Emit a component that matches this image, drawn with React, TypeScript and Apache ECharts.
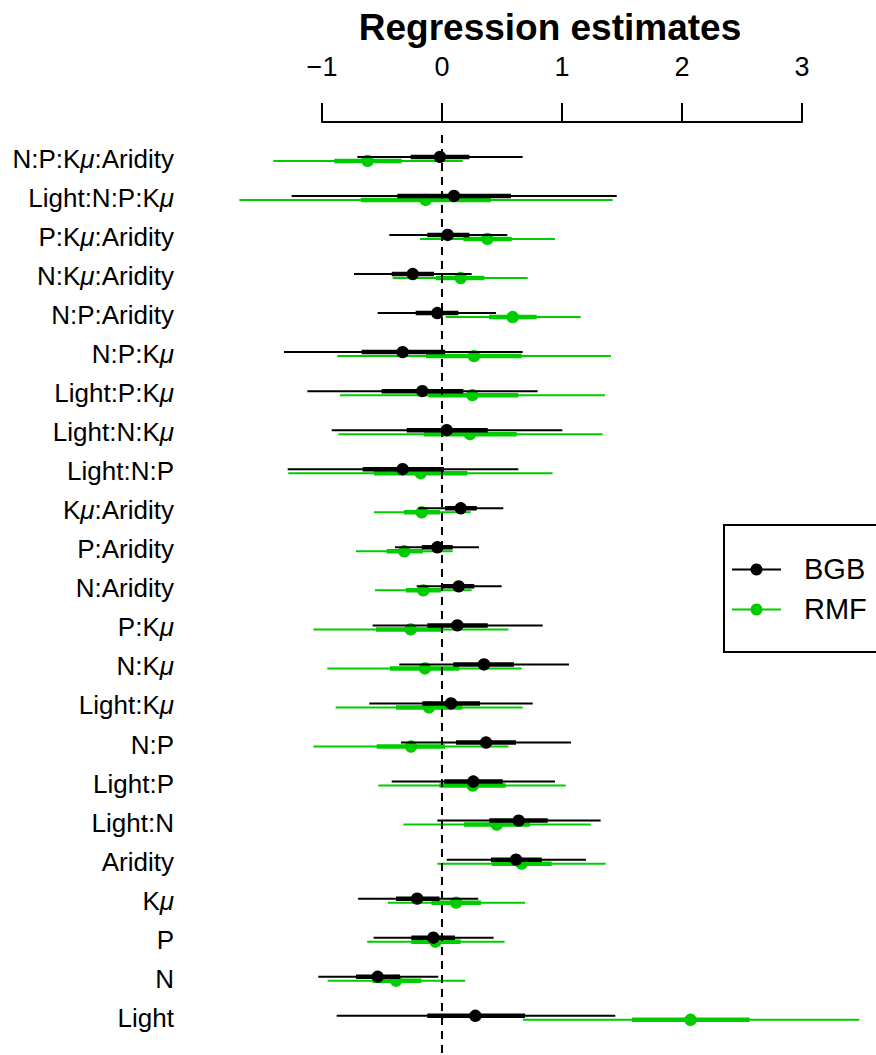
import React, { useEffect, useRef } from 'react';
import * as echarts from 'echarts';

// ---------------- data ----------------
const CATEGORIES = [
  'N:P:Kμ:Aridity', 'Light:N:P:Kμ', 'P:Kμ:Aridity', 'N:Kμ:Aridity', 'N:P:Aridity',
  'N:P:Kμ', 'Light:P:Kμ', 'Light:N:Kμ', 'Light:N:P', 'Kμ:Aridity', 'P:Aridity',
  'N:Aridity', 'P:Kμ', 'N:Kμ', 'Light:Kμ', 'N:P', 'Light:P', 'Light:N', 'Aridity',
  'Kμ', 'P', 'N', 'Light',
];

const X_TICKS = [-1, 0, 1, 2, 3];

const BGB_EST = [-0.017, 0.1, 0.047, -0.244, -0.039, -0.328, -0.164, 0.039, -0.328, 0.156, -0.039, 0.139, 0.128, 0.35, 0.075, 0.367, 0.261, 0.639, 0.617, -0.207, -0.072, -0.536, 0.278];
const BGB_LO95 = [-0.705, -1.253, -0.439, -0.733, -0.536, -1.317, -1.122, -0.919, -1.286, -0.197, -0.392, -0.211, -0.578, -0.356, -0.606, -0.342, -0.419, -0.039, 0.039, -0.699, -0.57, -1.031, -0.878];
const BGB_HI95 = [0.672, 1.456, 0.544, 0.247, 0.45, 0.672, 0.797, 1.003, 0.636, 0.511, 0.308, 0.497, 0.839, 1.058, 0.756, 1.075, 0.942, 1.322, 1.2, 0.302, 0.43, -0.031, 1.444];
const BGB_LO50 = [-0.261, -0.372, -0.122, -0.419, -0.219, -0.669, -0.503, -0.294, -0.661, 0.025, -0.169, 0.006, -0.122, 0.094, -0.164, 0.117, 0.019, 0.394, 0.408, -0.383, -0.255, -0.716, -0.123];
const BGB_HI50 = [0.228, 0.575, 0.228, -0.067, 0.136, 0.025, 0.178, 0.381, 0.017, 0.289, 0.089, 0.269, 0.381, 0.6, 0.317, 0.617, 0.506, 0.881, 0.831, -0.021, 0.108, -0.35, 0.692];

const RMF_EST = [-0.62, -0.136, 0.378, 0.156, 0.589, 0.267, 0.253, 0.233, -0.178, -0.169, -0.314, -0.156, -0.261, -0.142, -0.108, -0.258, 0.256, 0.456, 0.664, 0.118, -0.055, -0.383, 2.071];
const RMF_LO95 = [-1.406, -1.689, -0.183, -0.411, 0.031, -0.872, -0.85, -0.864, -1.281, -0.567, -0.717, -0.558, -1.072, -0.956, -0.886, -1.072, -0.531, -0.322, -0.039, -0.451, -0.624, -0.953, 0.674];
const RMF_HI95 = [0.172, 1.422, 0.942, 0.714, 1.156, 1.408, 1.358, 1.339, 0.922, 0.239, 0.089, 0.247, 0.553, 0.664, 0.672, 0.553, 1.031, 1.239, 1.364, 0.692, 0.522, 0.193, 3.478];
const RMF_LO50 = [-0.897, -0.678, 0.178, -0.05, 0.392, -0.133, -0.114, -0.15, -0.567, -0.317, -0.461, -0.3, -0.55, -0.433, -0.383, -0.544, -0.022, 0.183, 0.414, -0.088, -0.255, -0.58, 1.583];
const RMF_HI50 = [-0.336, 0.408, 0.581, 0.353, 0.789, 0.664, 0.636, 0.622, 0.211, -0.017, -0.161, -0.008, 0.011, 0.144, 0.169, 0.025, 0.531, 0.733, 0.914, 0.325, 0.156, -0.173, 2.563];

// ---------------- styles ----------------
const BLACK = '#000000';
const GREEN = '#00CD00';
const FONT = '"Liberation Sans", Arial, Helvetica, sans-serif';

function buildRows(est: number[], lo95: number[], hi95: number[], lo50: number[], hi50: number[]) {
  return CATEGORIES.map((_, i) => [i, est[i], lo95[i], hi95[i], lo50[i], hi50[i]]);
}

function makeRenderItem(color: string, dy: number) {
  return (params: any, api: any) => {
    const row = api.value(0);
    const pt = (v: number) => api.coord([v, row]);
    const m = pt(api.value(1));
    const a = pt(api.value(2));
    const b = pt(api.value(3));
    const c = pt(api.value(4));
    const d = pt(api.value(5));
    return {
      type: 'group',
      children: [
        { type: 'line', shape: { x1: a[0], y1: a[1] + dy, x2: b[0], y2: b[1] + dy }, style: { stroke: color, lineWidth: 2 } },
        { type: 'line', shape: { x1: c[0], y1: c[1] + dy, x2: d[0], y2: d[1] + dy }, style: { stroke: color, lineWidth: 4.5 } },
        { type: 'circle', shape: { cx: m[0], cy: m[1] + dy, r: 6.2 }, style: { fill: color } },
      ],
    };
  };
}

function labelRich(name: string) {
  const parts = name.split('μ');
  let out = '';
  parts.forEach((p, i) => {
    if (p) out += '{n|' + p + '}';
    if (i < parts.length - 1) out += '{m|μ}';
  });
  return out;
}

export default function App() {
  const ref = useRef<HTMLDivElement>(null);

  useEffect(() => {
    if (!ref.current) return;
    const chart = echarts.init(ref.current, undefined, { renderer: 'svg' });
    const rowValues = CATEGORIES.map((_, i) => i);

    const option: any = {
      animation: false,
      backgroundColor: '#ffffff',
      title: {
        text: 'Regression estimates',
        left: 550,
        top: 0,
        textAlign: 'center',
        padding: [9, 0, 0, 0],
        textStyle: { fontSize: 37, fontWeight: 'bold', color: BLACK, fontFamily: FONT },
      },
      grid: [
        { left: 202, width: 672, top: 135, bottom: 0, outerBoundsMode: 'none', containLabel: false },
        { left: 322, width: 480, top: 122, height: 1, outerBoundsMode: 'none', containLabel: false },
      ],
      xAxis: [
        {
          gridIndex: 0, type: 'value', min: -2, max: 3.6, show: false,
          splitLine: { show: false },
        },
        {
          gridIndex: 1, type: 'value', position: 'top', min: -1, max: 3, interval: 1,
          axisLine: { show: true, onZero: false, lineStyle: { color: BLACK, width: 2 } },
          axisTick: { show: true, inside: false, length: 19, lineStyle: { color: BLACK, width: 2 } },
          axisLabel: {
            show: true, margin: 42, fontSize: 27, color: BLACK, fontFamily: FONT,
            customValues: X_TICKS,
            formatter: (v: number) => (v < 0 ? '−' + Math.abs(v) : String(v)),
          },
          splitLine: { show: false },
        },
      ],
      yAxis: [
        {
          gridIndex: 0, type: 'value', inverse: true, min: -0.612, max: 22.953,
          axisLine: { show: false }, axisTick: { show: false }, splitLine: { show: false },
          axisLabel: {
            show: true, margin: 28, color: BLACK, fontSize: 26, fontFamily: FONT,
            customValues: rowValues,
            formatter: (v: number) => labelRich(CATEGORIES[Math.round(v)] || ''),
            rich: {
              n: { fontSize: 26, fontFamily: FONT, color: BLACK },
              m: { fontSize: 26, fontFamily: FONT, color: BLACK, fontStyle: 'italic' },
            },
          },
        },
        { gridIndex: 1, type: 'value', min: 0, max: 1, show: false },
      ],
      series: [
        {
          type: 'line', xAxisIndex: 0, yAxisIndex: 0, data: [], z: 1, silent: true,
          markLine: {
            silent: true, symbol: ['none', 'none'], label: { show: false },
            lineStyle: { color: BLACK, type: [8, 6], width: 2 },
            data: [{ xAxis: 0 }],
          },
        },
        {
          name: 'RMF', type: 'custom', xAxisIndex: 0, yAxisIndex: 0, z: 2,
          renderItem: makeRenderItem(GREEN, 2),
          encode: { x: [1, 2, 3, 4, 5], y: 0 },
          data: buildRows(RMF_EST, RMF_LO95, RMF_HI95, RMF_LO50, RMF_HI50),
          clip: false,
        },
        {
          name: 'BGB', type: 'custom', xAxisIndex: 0, yAxisIndex: 0, z: 3,
          renderItem: makeRenderItem(BLACK, -2),
          encode: { x: [1, 2, 3, 4, 5], y: 0 },
          data: buildRows(BGB_EST, BGB_LO95, BGB_HI95, BGB_LO50, BGB_HI50),
          clip: false,
        },
        { type: 'scatter', xAxisIndex: 1, yAxisIndex: 1, data: [], silent: true },
      ],
      graphic: [
        { type: 'rect', z: 10, shape: { x: 724, y: 525, width: 200, height: 127 }, style: { fill: '#ffffff', stroke: BLACK, lineWidth: 2 } },
        { type: 'line', z: 11, shape: { x1: 732, y1: 569.5, x2: 781, y2: 569.5 }, style: { stroke: BLACK, lineWidth: 2 } },
        { type: 'circle', z: 11, shape: { cx: 756.5, cy: 569.5, r: 6 }, style: { fill: BLACK } },
        { type: 'text', z: 11, x: 804, y: 568.5, style: { text: 'BGB', fontSize: 29, fontFamily: FONT, fill: BLACK, verticalAlign: 'middle', textVerticalAlign: 'middle' } },
        { type: 'line', z: 11, shape: { x1: 732, y1: 609.5, x2: 781, y2: 609.5 }, style: { stroke: GREEN, lineWidth: 2 } },
        { type: 'circle', z: 11, shape: { cx: 756.5, cy: 609.5, r: 6 }, style: { fill: GREEN } },
        { type: 'text', z: 11, x: 804, y: 608.5, style: { text: 'RMF', fontSize: 29, fontFamily: FONT, fill: BLACK, verticalAlign: 'middle', textVerticalAlign: 'middle' } },
      ],
    };

    chart.setOption(option);
    return () => chart.dispose();
  }, []);

  return (
    <div
      ref={ref}
      style={{ position: 'fixed', left: 0, top: 0, width: 876, height: 1055, background: '#fff' }}
    />
  );
}
